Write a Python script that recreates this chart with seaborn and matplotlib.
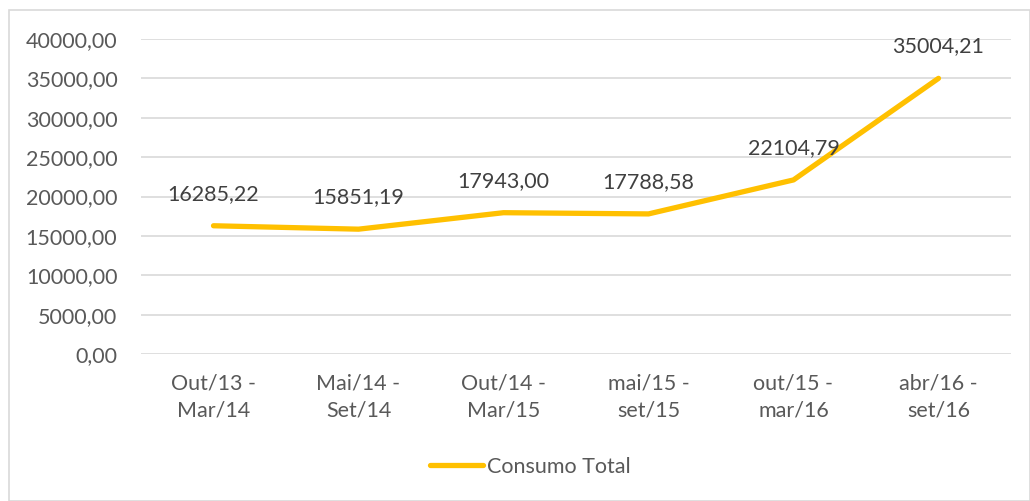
import pandas as pd
import numpy as np
import seaborn as sns
import matplotlib.pyplot as plt
from matplotlib.patches import Rectangle

# dados do gráfico
periodos = ["Out/13 -\nMar/14", "Mai/14 -\nSet/14", "Out/14 -\nMar/15",
            "mai/15 -\nset/15", "out/15 -\nmar/16", "abr/16 -\nset/16"]
consumo = [16285.22, 15851.19, 17943.00, 17788.58, 22104.79, 35004.21]
serie = "Consumo Total"

df = pd.DataFrame({"periodo": periodos, "consumo": consumo})

sns.set_style("white")
plt.rcParams["font.family"] = ["Lato", "DejaVu Sans"]
fs = 15.5

W, H = 1030, 501
fig = plt.figure(figsize=(W / 100, H / 100), dpi=100)
ax = fig.add_axes([141 / W, 1 - 354 / H, 870 / W, 315 / H])

x = np.arange(len(periodos))
sns.lineplot(x=x, y=df["consumo"], ax=ax, color="#FFC000", linewidth=3.8,
             label=serie, legend=False, solid_capstyle="round")

ax.set_xlim(-0.5, len(periodos) - 0.5)
ax.set_ylim(0, 40000)
ax.set_yticks(np.arange(0, 40001, 5000))
ax.set_yticklabels([f"{v:.2f}".replace(".", ",") for v in np.arange(0, 40001, 5000)])
ax.set_xticks(x)
ax.set_xticklabels(periodos, linespacing=1.45)
ax.set_xlabel("")
ax.set_ylabel("")
ax.grid(axis="y", color="#D9D9D9", linewidth=1.2)
ax.set_axisbelow(True)
for s in ax.spines.values():
    s.set_visible(False)
ax.tick_params(axis="both", length=0, labelsize=fs, colors="#595959")
ax.tick_params(axis="y", pad=17)
ax.tick_params(axis="x", pad=14)

for xi, v in zip(x, consumo):
    ax.annotate(f"{v:.2f}".replace(".", ","), (xi, v), xytext=(0, 32),
                textcoords="offset pixels", ha="center", va="center",
                fontsize=fs, color="#404040")

fig.legend(*ax.get_legend_handles_labels(), loc="center",
           bbox_to_anchor=(530 / W, 1 - 467 / H), frameon=False,
           fontsize=fs, labelcolor="#595959", handlelength=2.5,
           handletextpad=0.15)

fig.patches.append(Rectangle((9 / W, 0), 1 - 9 / W, 1 - 10 / H,
                             transform=fig.transFigure, fill=False,
                             edgecolor="#D9D9D9", linewidth=1.2))

fig.savefig("out.png", dpi=100)
